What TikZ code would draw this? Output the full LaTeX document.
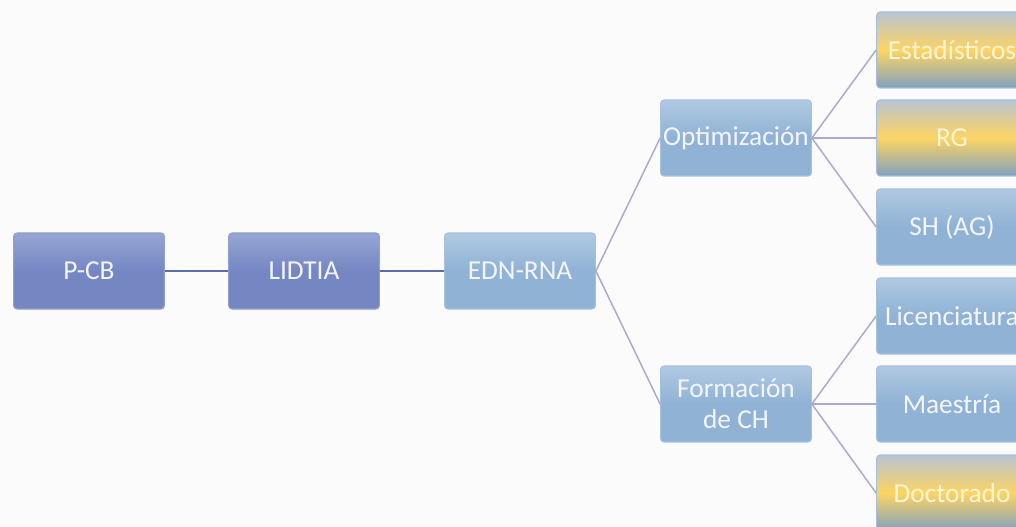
\documentclass[tikz,border=0pt]{standalone}
\usepackage{fontspec}
\setmainfont{Carlito}
\begin{document}
\begin{tikzpicture}[x=0.75pt,y=-0.75pt,
  box/.style={rectangle, rounded corners=2.5pt, minimum width=113pt, minimum height=57pt,
    inner sep=1pt, align=center, text=white!96!blue,
    font=\fontsize{20.5}{23.5}\selectfont, draw=#1!80!white, line width=0.8pt},
  darkbox/.style={box=boxdark, top color=boxdark!75!white, bottom color=boxdark,
    middle color=boxdark},
  lightbox/.style={box=boxlight, top color=boxlight!70!white, bottom color=boxlight,
    middle color=boxlight},
  goldbox/.style={box=boxlight, top color=boxgrey, bottom color=boxlight!90!black,
    middle color=boxgold, text=boxgoldtext},
  mainlink/.style={draw=linkdark, line width=1.6pt},
  branch/.style={draw=linklight, line width=1.1pt}]
\definecolor{boxdark}{HTML}{7487C3}
\definecolor{boxlight}{HTML}{8FB2D5}
\definecolor{boxgrey}{HTML}{B9C3D2}
\definecolor{boxgold}{HTML}{FCD463}
\definecolor{boxgoldtext}{HTML}{FFF4D6}
\definecolor{linkdark}{HTML}{5B6EA9}
\definecolor{linklight}{HTML}{ABA9D2}
\definecolor{page}{HTML}{FBFBFB}

\clip (0,0) rectangle (1016,527);
\fill[page] (0,0) rectangle (1016,527);

% first row
\node[darkbox]  (pcb)    at (89,271)  {P-CB};
\node[darkbox]  (lidtia) at (304,271) {LIDTIA};
\node[lightbox] (edn)    at (520,271) {EDN-RNA};

% second level
\node[lightbox] (opt)  at (736,138) {Optimización};
\node[lightbox] (form) at (736,404) {Formación\\de CH};

% leaves
\node[goldbox]  (est) at (952,50)  {Estadísticos};
\node[goldbox]  (rg)  at (952,138) {RG};
\node[lightbox] (sh)  at (952,227) {SH (AG)};
\node[lightbox] (lic) at (952,316) {Licenciatura};
\node[lightbox] (mae) at (952,404) {Maestría};
\node[goldbox]  (doc) at (952,493) {Doctorado};

% connectors
\draw[mainlink] (pcb.east) -- (lidtia.west);
\draw[mainlink] (lidtia.east) -- (edn.west);
\draw[branch] (edn.east) -- (opt.west);
\draw[branch] (edn.east) -- (form.west);
\foreach \c in {est,rg,sh} \draw[branch] (opt.east) -- (\c.west);
\foreach \c in {lic,mae,doc} \draw[branch] (form.east) -- (\c.west);
\end{tikzpicture}
\end{document}
